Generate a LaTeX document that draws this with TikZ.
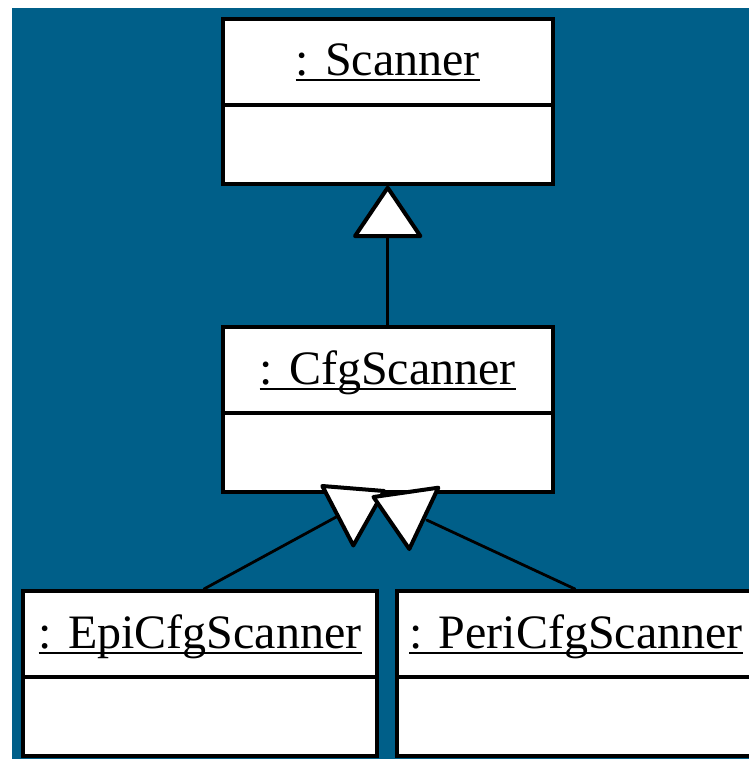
\documentclass[tikz,border=0pt]{standalone}
\usepackage{fontspec}
\setmainfont{Liberation Serif}
\usetikzlibrary{arrows.meta}
\definecolor{panelblue}{RGB}{0,95,137}
\tikzset{
  umlbox/.style={rectangle, draw=black, fill=white, line width=4bp,
    minimum width=#1, minimum height=165bp, inner sep=0pt, anchor=north west},
  nametext/.style={inner sep=0pt, anchor=base,
    font=\fontsize{48bp}{57bp}\selectfont},
  divider/.style={line width=4bp},
  underbar/.style={line width=2bp},
  assoc/.style={line width=2.8bp, line cap=round},
  genhead/.style={draw=black, fill=white, line width=4bp, line join=round},
  inherit/.style={assoc,
    -{Triangle[fill=white, length=54bp, width=72bp, line width=4bp, round]}}
}
\newcommand{\umlparts}[2]{%
  \node[nametext] (#1-name) at ([yshift=-59bp]#1.north) {#2};
  \draw[underbar] ([yshift=-4.5bp]#1-name.base west) -- ([yshift=-4.5bp]#1-name.base east);
  \draw[divider] ([yshift=-88bp]#1.north west) -- ([yshift=-88bp]#1.north east);
}
\begin{document}
\begin{tikzpicture}[x=1bp, y=-1bp]
  \useasboundingbox (0,0) rectangle (749,759);
  \clip (0,0) rectangle (749,759);
  \fill[panelblue] (12,8) rectangle (749,759);

  % class boxes
  \node[umlbox=330bp] (scanner) at (220.7,16.7) {};
  \umlparts{scanner}{: Scanner}
  \node[umlbox=330bp] (cfg) at (220.7,325) {};
  \umlparts{cfg}{: CfgScanner}
  \node[umlbox=354bp] (epi) at (21,589) {};
  \umlparts{epi}{: EpiCfgScanner}
  \node[umlbox=358bp] (peri) at (395,589) {};
  \umlparts{peri}{: PeriCfgScanner}

  % CfgScanner specialises Scanner
  \draw[inherit] (cfg.north) -- (scanner.south);

  % the two subclasses of CfgScanner
  \coordinate (epiend) at (336.7,516.7);
  \coordinate (periend) at (426.7,520);
  \draw[assoc] ([xshift=4bp]epi.north) -- (epiend);
  \draw[assoc] ([xshift=-1bp]peri.north) -- (periend);
  \path[genhead] (322.3,486) -- (384,491) -- (353.3,545.5) -- cycle;
  \path[genhead] (373.5,497) -- (438.3,487.7) -- (409.3,549) -- cycle;
\end{tikzpicture}
\end{document}
